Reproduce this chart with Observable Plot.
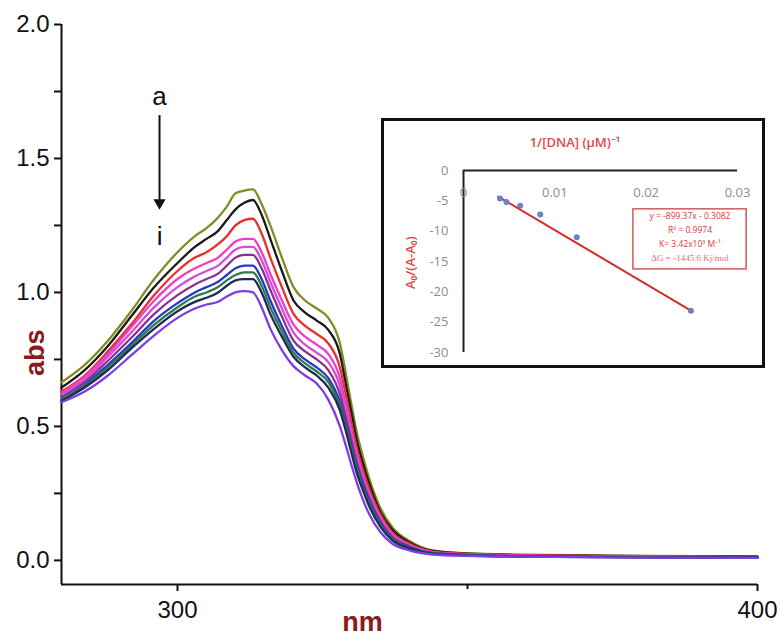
<!DOCTYPE html>
<html><head><meta charset="utf-8">
<script src="https://cdn.jsdelivr.net/npm/d3@7"></script>
<script src="https://cdn.jsdelivr.net/npm/@observablehq/plot@0.6"></script>
<style>
body{margin:0;background:#fff;}
#wrap{position:relative;width:781px;height:639px;overflow:hidden;}
#inset{position:absolute;left:381px;top:118px;border:3px solid #111;background:#fff;}
svg{display:block;}
</style></head><body><div id="wrap"><div id="main"></div><div id="inset"></div></div>
<script>
// ---- main spectra (wavelength, nm) ----
const wavelengths = [280,284,288,292,296,300,303,305,307,308.5,310,311.5,313,314.5,316,318,320,322,324,326,328,329,330,331,332,333,335,337,340,344,350,360,375,390,400];
const curveA = [.665,.73,.82,.93,1.05,1.15,1.21,1.24,1.28,1.32,1.37,1.38,1.385,1.33,1.25,1.13,1.02,.97,.94,.905,.81,.70,.58,.47,.385,.31,.195,.125,.072,.037,.026,.021,.018,.016,.015];
const curveB = [.645,.71,.80,.91,1.02,1.11,1.17,1.20,1.23,1.27,1.31,1.335,1.345,1.29,1.20,1.08,.97,.925,.895,.86,.77,.66,.55,.44,.36,.29,.18,.115,.067,.035,.025,.02,.017,.015,.014];
const curveC = [.63,.69,.78,.88,.99,1.08,1.13,1.15,1.18,1.21,1.25,1.27,1.275,1.22,1.13,1.02,.92,.875,.845,.81,.72,.62,.51,.41,.335,.27,.17,.105,.062,.033,.024,.019,.016,.014,.013];
const curveD = [.625,.685,.77,.87,.97,1.05,1.09,1.11,1.13,1.16,1.19,1.20,1.20,1.15,1.07,.97,.88,.835,.805,.77,.68,.585,.485,.39,.315,.255,.16,.098,.058,.031,.023,.018,.015,.013,.012];
const curveE = [.62,.675,.76,.85,.945,1.02,1.06,1.08,1.10,1.13,1.16,1.17,1.17,1.12,1.04,.94,.85,.805,.775,.74,.65,.56,.465,.375,.305,.245,.155,.094,.055,.030,.022,.017,.014,.012,.011];
const curveF = [.61,.665,.745,.83,.92,.99,1.03,1.05,1.07,1.10,1.13,1.14,1.14,1.09,1.01,.91,.82,.78,.75,.71,.62,.535,.445,.36,.29,.235,.145,.088,.052,.028,.021,.016,.013,.012,.011];
const curveG = [.60,.655,.73,.81,.895,.96,1.00,1.02,1.04,1.065,1.09,1.10,1.10,1.05,.97,.875,.79,.75,.72,.68,.59,.51,.425,.345,.28,.225,.138,.083,.049,.027,.02,.015,.013,.011,.010];
const curveH = [.60,.65,.72,.80,.88,.945,.985,1.00,1.02,1.045,1.065,1.075,1.075,1.025,.945,.855,.775,.735,.705,.665,.575,.50,.415,.335,.27,.215,.132,.08,.047,.026,.019,.015,.012,.011,.010];
const curveI = [.595,.645,.71,.79,.865,.93,.965,.98,1.00,1.025,1.045,1.05,1.05,1.00,.92,.835,.76,.72,.69,.645,.56,.485,.40,.32,.26,.205,.125,.076,.045,.025,.018,.014,.012,.011,.010];
const curveJ = [.59,.63,.69,.765,.84,.905,.94,.955,.965,.985,1.00,1.005,1.00,.945,.865,.785,.725,.69,.66,.60,.50,.43,.355,.285,.225,.175,.105,.063,.037,.022,.017,.014,.011,.010,.009];
const curveNames = ["a","b","c","d","e","f","g","h","i2","j"];
const curveColors = ["#848a24","#1a1a1a","#e8302a","#f23cc6","#d04fdc","#8e2f8f","#2438c8","#2f7a4a","#1f2b55","#7b3ee6"];
const yMajorTicks = [0, 0.5, 1.0, 1.5, 2.0];
const yMinorTicks = [0.25, 0.75, 1.25, 1.75];
const xLabelTicks = [300, 400];
const xMinorTicks = [350];
const arrowLabels = ["a", "i"];
const arrowLabelY = [1.73, 1.21];
const arrowX = 296.9, arrowTop = 1.66, arrowTip = 1.315;

// ---- inset (Benesi-Hildebrand) ----
const insetX = [0.0040, 0.0047, 0.0062, 0.0084, 0.0124, 0.0249];
const insetY = [-4.6, -5.2, -5.8, -7.25, -11.0, -23.1];
const fitX = [0.0038, 0.0249];
const fitY = [-4.3, -23.1];
const insetYTicks = [0, -5, -10, -15, -20, -25, -30];
const insetXTicks = [0, 0.01, 0.02, 0.03];
const insetXTickLabels = ["0", "0.01", "0.02", "0.03"];
const eqLines = ["y = -899.37x - 0.3082", "R\u00b2 = 0.9974", "K= 3.42x10\u00b3 M\u207b\u00b9", "\u0394G = -1445.6 Kj/mol"];
const eqLineY = [-7.6, -9.8, -12.1, -14.5];

const series = [curveA,curveB,curveC,curveD,curveE,curveF,curveG,curveH,curveI,curveJ];
const rows = [];
series.forEach((vals, k) => vals.forEach((v, i) => rows.push({nm: wavelengths[i], abs: v, curve: curveNames[k]})));

const dark = "#111";
const main = Plot.plot({
  width: 781, height: 639,
  marginLeft: 61, marginRight: 24, marginTop: 24, marginBottom: 55,
  x: {domain: [280, 400]},
  y: {domain: [-0.09, 2.0]},
  color: {domain: curveNames, range: curveColors},
  style: {fontFamily: "'Liberation Sans', Arial, sans-serif", background: "white", color: dark},
  marks: [
    Plot.axisY({ticks: yMajorTicks, tickFormat: d3.format(".1f"), tickSize: 7, tickPadding: 5, fontSize: 24, label: null, strokeWidth: 2}),
    Plot.axisY({ticks: yMinorTicks, tickFormat: () => "", tickSize: 7, label: null, strokeWidth: 2}),
    Plot.axisX({ticks: xLabelTicks, tickSize: 7, tickPadding: 9, fontSize: 24, label: null, strokeWidth: 2}),
    Plot.axisX({ticks: xMinorTicks, tickFormat: () => "", tickSize: 5, label: null, strokeWidth: 2}),
    Plot.ruleX([280], {y1: -0.09, y2: 2.0, strokeWidth: 2, stroke: dark}),
    Plot.ruleY([-0.09], {strokeWidth: 2, stroke: dark}),
    Plot.line(rows, {x: "nm", y: "abs", z: "curve", stroke: "curve", strokeWidth: 2.3, curve: "monotone-x"}),
    Plot.ruleX([arrowX], {y1: arrowTop, y2: arrowTip + 0.03, strokeWidth: 2, stroke: dark}),
    Plot.dot([arrowX], {x: d => d, y: arrowTip + 0.02, symbol: "triangle", rotate: 180, r: 4.5, fill: dark, stroke: "none"}),
    Plot.text(arrowLabels, {x: arrowX, y: (d, i) => arrowLabelY[i], text: d => d, fontSize: 26, fill: dark}),
    Plot.text(["abs"], {x: 280, y: 0.775, dx: -26, rotate: -90, text: d => d, fontSize: 27, fontWeight: "bold", fill: "#8b1a1a"}),
    Plot.text(["nm"], {x: 331.9, y: -0.09, dy: 38, text: d => d, fontSize: 27, fontWeight: "bold", fill: "#8b1a1a"})
  ]
});
document.getElementById("main").appendChild(main);

const red = "#e0474c";
const gray = "#8c8c8c";
const inset = Plot.plot({
  width: 378, height: 244,
  marginLeft: 79, marginRight: 25, marginTop: 49, marginBottom: 13,
  x: {domain: [0, 0.03], axis: null},
  y: {domain: [-30, 0], axis: null},
  style: {fontFamily: "'Open Sans', 'Noto Sans', sans-serif", background: "white"},
  marks: [
    Plot.ruleX([0], {y1: 0, y2: -30, strokeWidth: 2, stroke: "#222"}),
    Plot.ruleY([0], {x1: 0, x2: 0.03, strokeWidth: 2, stroke: "#222"}),
    Plot.text(insetYTicks, {x: 0, y: d => d, text: d => String(d), dx: -15, textAnchor: "end", fill: gray, fontSize: 13}),
    Plot.text(insetXTicks, {x: d => d, y: 0, text: (d, i) => insetXTickLabels[i], dy: 22, fill: gray, fontSize: 13}),
    Plot.text(["1/[DNA] (\u03bcM)\u207b\u00b9"], {x: 0.0122, y: 4.6, text: d => d, fill: red, fontSize: 13, fontWeight: 600}),
    Plot.text(["A\u2080/(A-A\u2080)"], {x: 0, y: -15.2, dx: -53, rotate: -90, text: d => d, fill: red, fontSize: 13, fontWeight: 600}),
    Plot.line(fitX.map((x, i) => ({x, y: fitY[i]})), {x: "x", y: "y", stroke: "#d42a2a", strokeWidth: 2}),
    Plot.dot(insetX.map((x, i) => ({x, y: insetY[i]})), {x: "x", y: "y", r: 3, fill: "#6d82c0", stroke: "none"}),
    Plot.rect([{x1: 0.0186, x2: 0.0310, y1: -6.4, y2: -16.3}], {x1: "x1", x2: "x2", y1: "y1", y2: "y2", fill: "none", stroke: "#d05a5a", strokeWidth: 1.5}),
    Plot.text(eqLines.slice(0, 3), {x: 0.0248, y: (d, i) => eqLineY[i], text: d => d, fill: "#d83a3a", fontSize: 8.5}),
    Plot.text(eqLines.slice(3), {x: 0.0248, y: eqLineY[3], text: d => d, fill: "#e07070", fontSize: 9, fontFamily: "'Liberation Serif', serif"})
  ]
});
document.getElementById("inset").appendChild(inset);
</script>
</body></html>
